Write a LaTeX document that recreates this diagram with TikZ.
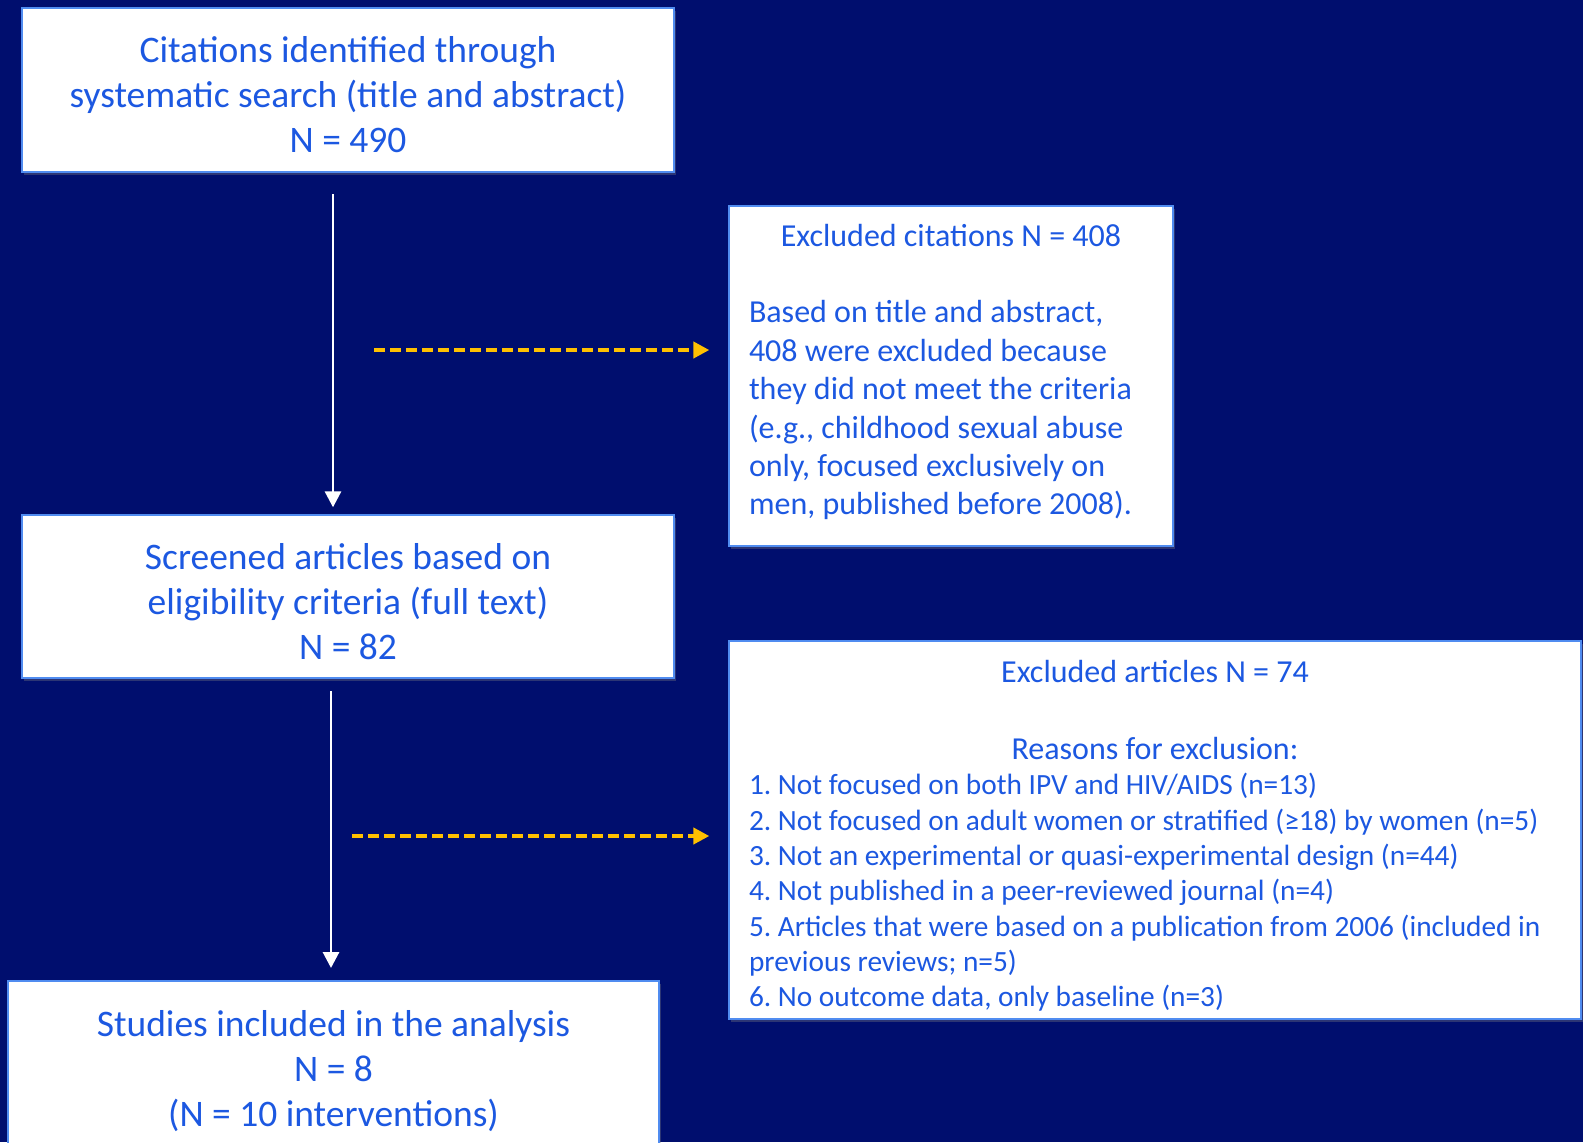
\documentclass[tikz,border=0pt]{standalone}
\usepackage{fontspec}
\setmainfont{Carlito}
\usetikzlibrary{arrows.meta,shadows}
\definecolor{navybg}{RGB}{0,14,110}
\definecolor{boxtext}{RGB}{28,88,225}
\definecolor{boxline}{RGB}{80,140,240}
\definecolor{dashyellow}{RGB}{255,192,0}
\tikzset{
  flowbox/.style={draw=boxline, line width=1.5pt, fill=white, inner sep=0pt,
    drop shadow={opacity=0.35, shadow xshift=1.5pt, shadow yshift=-2pt}},
  flowtext/.style={text=boxtext, inner sep=0pt, align=center,
    font=\fontsize{28.1pt}{33.75pt}\selectfont},
  sidebox/.style={flowbox, text=boxtext, inner xsep=15pt, align=flush left},
  mainflow/.style={draw=white, line width=2.2pt, -{Triangle[width=12pt,length=12pt]}},
  exclflow/.style={draw=dashyellow, line width=3pt, dash pattern=on 8pt off 4pt,
    -{Triangle[width=12pt,length=12pt]}}
}
\newcommand{\headsize}{\fontsize{24pt}{26.5pt}\selectfont}
\frenchspacing
\begin{document}
\begin{tikzpicture}[x=0.75pt,y=-0.75pt]
\path[fill=navybg, use as bounding box] (0,0) rectangle (1583,1142);
\clip (0,0) rectangle (1583,1142);

% main column
\node[flowbox, minimum width=652*0.75pt, minimum height=164*0.75pt] (search) at (348,90) {};
\node[flowtext, yshift=-3.75pt] (searchtxt) at (search.center)
  {Citations identified through\\systematic search (title and abstract)\\N = 490};
\node[flowbox, minimum width=652*0.75pt, minimum height=163*0.75pt] (screen) at (348,596.5) {};
\node[flowtext, yshift=-4pt] (screentxt) at (screen.center)
  {Screened articles based on\\eligibility criteria (full text)\\N = 82};
\node[flowbox, minimum width=651*0.75pt, minimum height=174*0.75pt] (incl) at (333.5,1068) {};
\node[flowtext, yshift=-2.25pt] (incltxt) at (incl.center)
  {Studies included in the analysis\\N = 8\\(N = 10 interventions)};

% exclusion boxes
\node[sidebox, text width=404*0.75pt, minimum height=340*0.75pt,
  font=\fontsize{24pt}{28.8pt}\selectfont] (exccit) at (951,376)
  {{\centering Excluded citations N = 408\par}\vspace{28.8pt}
   Based on title and abstract,\\408 were excluded because\\they did not meet the criteria\\(e.g., childhood sexual abuse\\only, focused exclusively on\\men, published before 2008).\par\vspace*{6pt}};
\node[sidebox, text width=812*0.75pt, minimum height=378*0.75pt,
  font=\fontsize{22pt}{26.5pt}\selectfont] (excart) at (1155,830)
  {{\centering\headsize\rule{0pt}{26pt}Excluded articles N = 74\par}\vspace{31pt}
   {\centering\headsize Reasons for exclusion:\par}
   1. Not focused on both IPV and HIV/AIDS (n=13)\\
   2. Not focused on adult women or stratified (≥18) by women (n=5)\\
   3. Not an experimental or quasi-experimental design (n=44)\\
   4. Not published in a peer-reviewed journal (n=4)\\
   5. Articles that were based on a publication from 2006 (included in\\
   previous reviews; n=5)\\
   6. No outcome data, only baseline (n=3)};

% connectors
\coordinate (s1) at (333,194);
\coordinate (s2) at (331,691);
\coordinate (d1) at (374,350);
\coordinate (d2) at (352,836);
\draw[mainflow, shorten >=5pt] (s1) -- (s1 |- screen.north);
\draw[mainflow, shorten >=9pt] (s2) -- (s2 |- incl.north);
\draw[exclflow, shorten >=14pt] (d1) -- (d1 -| exccit.west);
\draw[exclflow, shorten >=14pt] (d2) -- (d2 -| excart.west);
\end{tikzpicture}
\end{document}
